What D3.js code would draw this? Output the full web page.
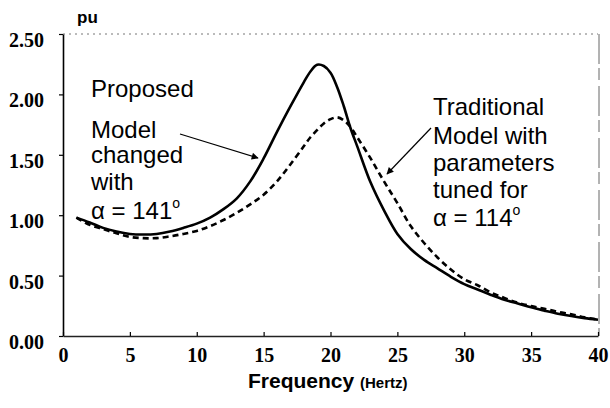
<!DOCTYPE html>
<html>
<head>
<meta charset="utf-8">
<script src="https://cdn.jsdelivr.net/npm/d3@7"></script>
<style>
  html, body { margin: 0; padding: 0; background: #fff; }
  svg { display: block; }
</style>
</head>
<body>
<svg id="chart" width="610" height="408"></svg>
<script>
// Frequency response (pu) of the two models
const frequency = [1, 2, 3, 4, 5, 6, 7, 8, 9, 10, 11, 12, 13, 14, 15, 16, 17, 18, 18.5, 19, 19.5, 20, 20.5, 21, 21.5, 22,
  23, 24, 25, 26, 27, 28, 29, 30, 31, 32, 33, 34, 35, 36, 37, 38, 39, 40];
const proposedModel = [0.98, 0.94, 0.895, 0.865, 0.845, 0.84, 0.845, 0.865, 0.895, 0.93, 0.98, 1.05, 1.14, 1.28, 1.47, 1.69, 1.90, 2.10, 2.19, 2.245, 2.235, 2.18, 2.06, 1.90, 1.72, 1.57,
  1.27, 1.04, 0.845, 0.72, 0.63, 0.56, 0.49, 0.43, 0.385, 0.34, 0.30, 0.27, 0.237, 0.21, 0.185, 0.165, 0.148, 0.135];
const traditionalModel = [0.98, 0.92, 0.885, 0.85, 0.82, 0.81, 0.81, 0.825, 0.845, 0.87, 0.91, 0.96, 1.02, 1.09, 1.17, 1.28, 1.42, 1.57, 1.645, 1.705, 1.76, 1.795, 1.81, 1.785, 1.73, 1.645,
  1.47, 1.28, 1.10, 0.91, 0.77, 0.65, 0.55, 0.47, 0.42, 0.36, 0.315, 0.275, 0.248, 0.225, 0.20, 0.18, 0.155, 0.135];

const xTicks = [0, 5, 10, 15, 20, 25, 30, 35, 40];
const yTicks = [0, 0.5, 1.0, 1.5, 2.0, 2.5];

const proposedLabel = ["Proposed", "Model", "changed", "with", "α = 141"];
const traditionalLabel = ["Traditional", "Model with", "parameters", "tuned for", "α = 114"];

const svg = d3.select("#chart");
const x = d3.scaleLinear().domain([0, 40]).range([63, 598]);
const y = d3.scaleLinear().domain([0, 2.5]).range([336, 34]);

// faint plot frame (top and right)
svg.append("line").attr("x1", x(0)).attr("x2", x(40)).attr("y1", y(2.5)).attr("y2", y(2.5))
  .attr("stroke", "#777").attr("stroke-width", 1).attr("stroke-dasharray", "2,4");
svg.append("line").attr("x1", x(40) + 1).attr("x2", x(40) + 1).attr("y1", y(2.5)).attr("y2", y(0))
  .attr("stroke", "#666").attr("stroke-width", 1).attr("stroke-dasharray", "30,4,12,6");

// y axis
const yAxis = svg.append("g").attr("transform", `translate(${x(0)},0)`)
  .call(d3.axisLeft(y).tickValues(yTicks).tickFormat(d3.format(".2f")).tickSize(4).tickSizeOuter(0).tickPadding(15));
yAxis.select(".domain").attr("stroke", "#000").attr("stroke-width", 1.6);
yAxis.selectAll(".tick line").attr("stroke", "#000").attr("stroke-width", 1.2);
yAxis.selectAll(".tick text")
  .attr("font-family", "'Liberation Serif', 'Times New Roman', serif")
  .attr("font-weight", "bold").attr("font-size", 20).attr("fill", "#000")
  .attr("dy", "0.62em");

// x axis
const xAxis = svg.append("g").attr("transform", `translate(0,${y(0)})`)
  .call(d3.axisBottom(x).tickValues(xTicks).tickFormat(d3.format("d")).tickSize(-4).tickSizeOuter(0).tickPadding(12));
xAxis.select(".domain").attr("stroke", "#222").attr("stroke-width", 1.4);
xAxis.selectAll(".tick line").attr("stroke", "#000").attr("stroke-width", 1.2);
xAxis.selectAll(".tick text")
  .attr("font-family", "'Liberation Serif', 'Times New Roman', serif")
  .attr("font-weight", "bold").attr("font-size", 20).attr("fill", "#000");

// axis titles
svg.append("text").attr("x", 77).attr("y", 23)
  .attr("font-family", "'Liberation Sans', Arial, sans-serif").attr("font-weight", "bold")
  .attr("font-size", 17).text("pu");

const xTitle = svg.append("text").attr("x", 248).attr("y", 388)
  .attr("font-family", "'Liberation Sans', Arial, sans-serif").attr("font-weight", "bold");
xTitle.append("tspan").attr("font-size", 21).text("Frequency ");
xTitle.append("tspan").attr("font-size", 15).text("(Hertz)");

// response curves, smoothed through the sampled points
const line = (vals) => d3.line()
  .x((d, i) => x(frequency[i]))
  .y(d => y(d))
  .curve(d3.curveCatmullRom.alpha(0.5))(vals);

svg.append("path").attr("d", line(traditionalModel))
  .attr("fill", "none").attr("stroke", "#000").attr("stroke-width", 2.6)
  .attr("stroke-dasharray", "6,4");
svg.append("path").attr("d", line(proposedModel))
  .attr("fill", "none").attr("stroke", "#000").attr("stroke-width", 2.6);

// arrowhead
svg.append("defs").append("marker")
  .attr("id", "arrow").attr("viewBox", "0 0 10 10").attr("refX", 9).attr("refY", 5)
  .attr("markerWidth", 9).attr("markerHeight", 7).attr("markerUnits", "userSpaceOnUse")
  .attr("orient", "auto")
  .append("path").attr("d", "M0,0 L10,5 L0,10 Z").attr("fill", "#000");

svg.append("line").attr("x1", 180).attr("y1", 134).attr("x2", 258).attr("y2", 158)
  .attr("stroke", "#000").attr("stroke-width", 1.2).attr("marker-end", "url(#arrow)");
svg.append("line").attr("x1", 431).attr("y1", 128).attr("x2", 387).attr("y2", 174)
  .attr("stroke", "#000").attr("stroke-width", 1.2).attr("marker-end", "url(#arrow)");

// annotation text
const annFont = "'Liberation Sans', Arial, sans-serif";
const leftY = [97, 138, 163, 190, 219];
const rightY = [115, 144, 171, 198, 226];

function annotate(lines, xs, ys) {
  lines.forEach((t, i) => {
    const el = svg.append("text").attr("x", xs).attr("y", ys[i])
      .attr("font-family", annFont).attr("font-size", 24).attr("fill", "#000").text(t);
    if (t.startsWith("α")) {
      el.append("tspan").attr("font-size", 14).attr("dy", -11).text("o");
    }
  });
}
annotate(proposedLabel, 91, leftY);
annotate(traditionalLabel, 433, rightY);
</script>
</body>
</html>
